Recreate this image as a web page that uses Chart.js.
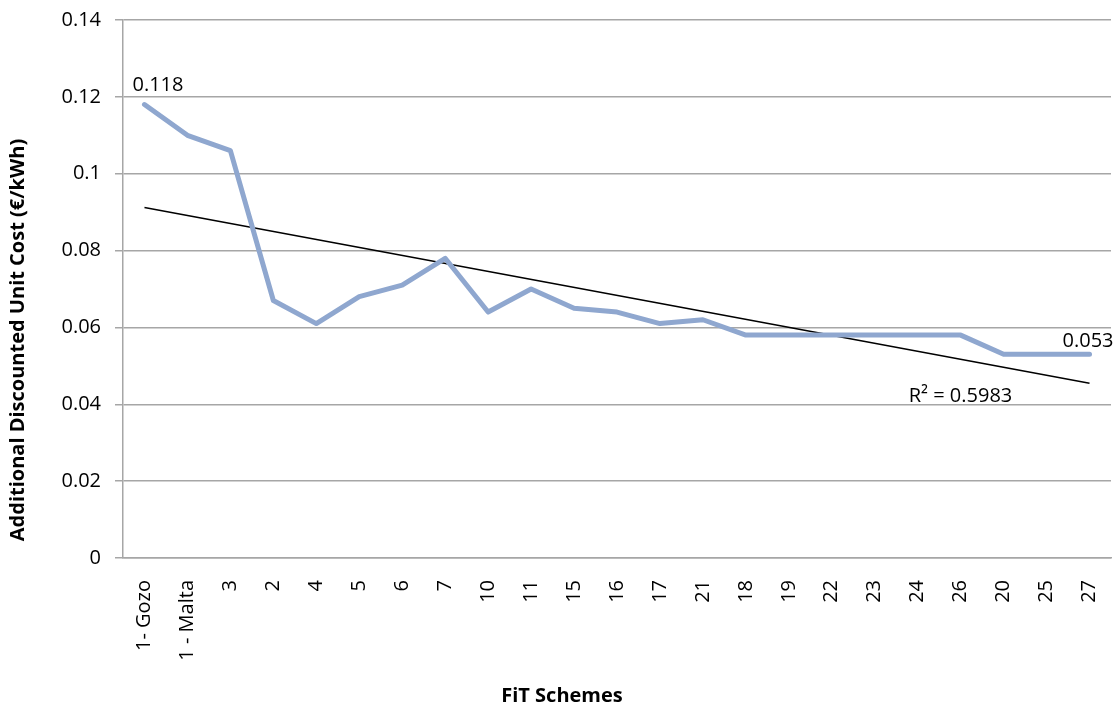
<!DOCTYPE html>
<html>
<head>
<meta charset="utf-8">
<script src="https://cdn.jsdelivr.net/npm/chart.js@4.4.0/dist/chart.umd.min.js"></script>
<style>
  html, body { margin: 0; padding: 0; background: #ffffff; }
  #wrap { width: 1120px; height: 706px; position: relative; }
</style>
</head>
<body>
<div id="wrap"><canvas id="c" width="1120" height="706"></canvas></div>
<script>
const categories = ['1- Gozo', '1 - Malta', '3', '2', '4', '5', '6', '7', '10', '11', '15', '16', '17', '21', '18', '19', '22', '23', '24', '26', '20', '25', '27'];
const unitCost = [0.118, 0.110, 0.106, 0.067, 0.061, 0.068, 0.071, 0.078, 0.064, 0.070, 0.065, 0.064, 0.061, 0.062, 0.058, 0.058, 0.058, 0.058, 0.058, 0.058, 0.053, 0.053, 0.053];
const trendStart = 0.0912;
const trendEnd = 0.0455;
const yTickValues = [0, 0.02, 0.04, 0.06, 0.08, 0.1, 0.12, 0.14];
const yTickLabels = ['0', '0.02', '0.04', '0.06', '0.08', '0.1', '0.12', '0.14'];
const rSquaredText = 'R² = 0.5983';
const xTitle = 'FiT Schemes';
const yTitle = 'Additional Discounted Unit Cost (€/kWh)';
const labelledPoints = [0, 22];

const trendData = categories.map((c, i) => i === 0 ? trendStart : (i === categories.length - 1 ? trendEnd : null));

const FONT = '"Open Sans", "Liberation Sans", sans-serif';

const labelPlugin = {
  id: 'labels',
  afterDatasetsDraw(chart) {
    const ctx = chart.ctx;
    const xs = chart.scales.x, ys = chart.scales.y;
    ctx.save();
    ctx.font = '20px ' + FONT;
    ctx.fillStyle = '#000';
    ctx.textBaseline = 'alphabetic';
    const i0 = labelledPoints[0];
    ctx.textAlign = 'left';
    ctx.fillText(String(unitCost[i0]), xs.getPixelForValue(i0) - 12, ys.getPixelForValue(unitCost[i0]) - 14);
    const i1 = labelledPoints[1];
    ctx.textAlign = 'right';
    ctx.fillText(String(unitCost[i1]), xs.getPixelForValue(i1) + 24, ys.getPixelForValue(unitCost[i1]) - 7);
    ctx.textAlign = 'left';
    ctx.fillText(rSquaredText, xs.getPixelForValue(18) - 9, ys.getPixelForValue(0.0445) + 15);
    // axis titles
    ctx.font = 'bold 20px ' + FONT;
    ctx.textAlign = 'center';
    ctx.textBaseline = 'middle';
    ctx.fillText(xTitle, 562, 696);
    ctx.translate(18, 340);
    ctx.rotate(-Math.PI / 2);
    ctx.fillText(yTitle, 0, 0);
    ctx.restore();
  }
};

new Chart(document.getElementById('c'), {
  type: 'line',
  data: {
    labels: categories,
    datasets: [
      {
        data: unitCost,
        borderColor: '#8fa7cf',
        borderWidth: 5,
        pointRadius: 0,
        tension: 0,
        borderJoinStyle: 'round',
        borderCapStyle: 'round'
      },
      {
        data: trendData,
        borderColor: '#000000',
        borderWidth: 1.5,
        pointRadius: 0,
        spanGaps: true,
        tension: 0
      }
    ]
  },
  options: {
    responsive: false,
    animation: false,
    devicePixelRatio: 1,
    layout: { padding: { left: 0, top: 20, right: 9, bottom: 0 } },
    plugins: { legend: { display: false }, tooltip: { enabled: false } },
    scales: {
      x: {
        type: 'category',
        offset: true,
        grid: { display: false },
        border: { display: true, color: '#a6a6a6', width: 1.5 },
        ticks: {
          color: '#000',
          font: { family: FONT, size: 20 },
          minRotation: 90,
          maxRotation: 90,
          autoSkip: false,
          padding: 14
        },
        afterFit(scale) { scale.height = 148; scale.paddingLeft = 0; scale.paddingRight = 9; }
      },
      y: {
        min: 0,
        max: 0.14,
        afterBuildTicks(scale) { scale.ticks = yTickValues.map(v => ({ value: v })); },
        grid: { color: '#a6a6a6', lineWidth: 1.5, tickLength: 8 },
        border: { display: true, color: '#a6a6a6', width: 1.5 },
        ticks: {
          color: '#000',
          font: { family: FONT, size: 20 },
          padding: 14,
          callback(value) {
            const idx = yTickValues.findIndex(v => Math.abs(v - value) < 1e-9);
            return idx >= 0 ? yTickLabels[idx] : '';
          }
        },
        afterFit(scale) { scale.width = 123; scale.paddingTop = 0; scale.paddingBottom = 0; }
      }
    }
  },
  plugins: [labelPlugin]
});
</script>
</body>
</html>
